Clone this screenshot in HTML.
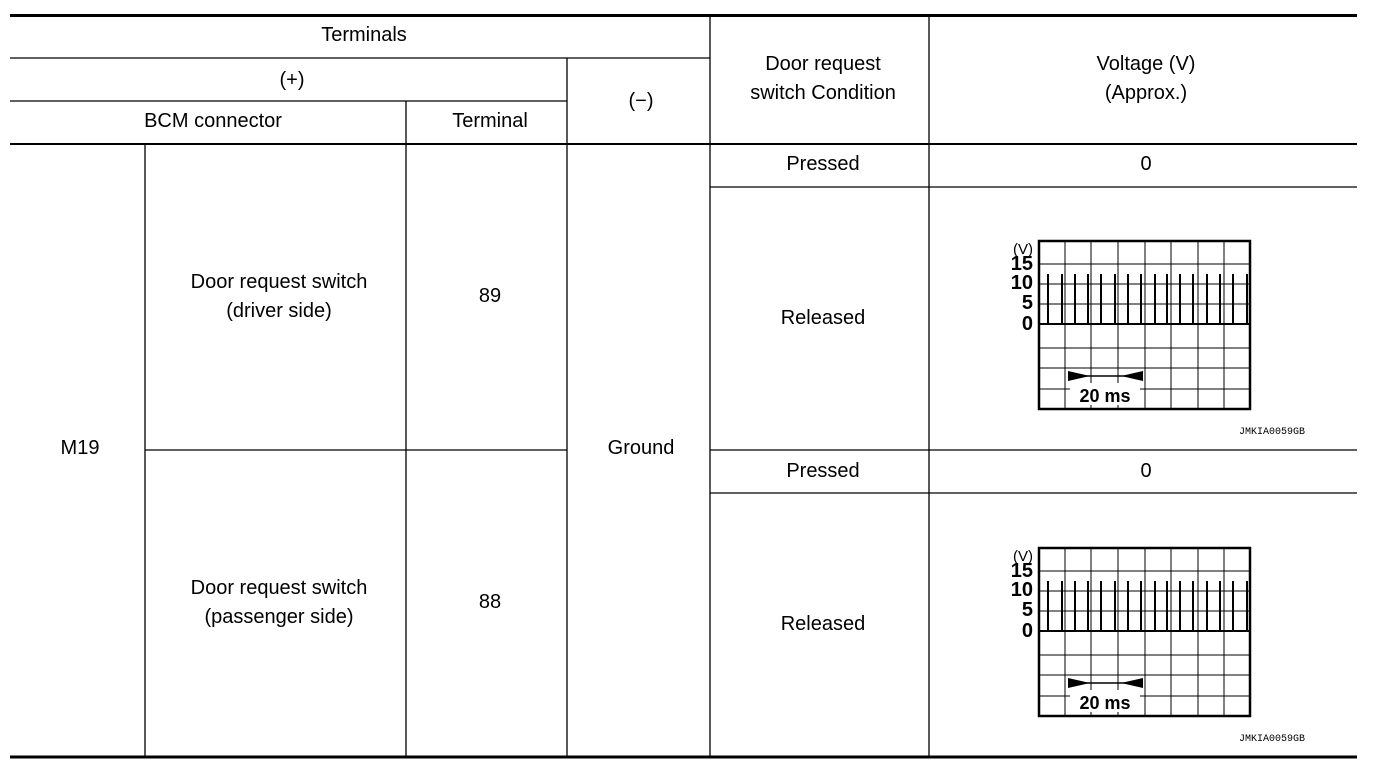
<!DOCTYPE html><html><head><style>
body{margin:0;background:#fff;}
svg text{font-family:"Liberation Sans",Arial,sans-serif;font-size:20px;fill:#000;}
</style></head><body>
<svg width="1392" height="772" xmlns="http://www.w3.org/2000/svg">
<g stroke="#000" stroke-width="1.3" fill="none">
<line x1="10" y1="15.5" x2="1357" y2="15.5" stroke-width="3"/>
<line x1="10" y1="757" x2="1357" y2="757" stroke-width="3"/>
<line x1="10" y1="58" x2="710" y2="58"/>
<line x1="10" y1="101" x2="567" y2="101"/>
<line x1="10" y1="144" x2="1357" y2="144" stroke-width="2"/>
<line x1="710" y1="187" x2="1357" y2="187"/>
<line x1="145" y1="450" x2="567" y2="450"/>
<line x1="710" y1="450" x2="1357" y2="450"/>
<line x1="710" y1="493" x2="1357" y2="493"/>
<line x1="145" y1="144" x2="145" y2="757"/>
<line x1="406" y1="101" x2="406" y2="757"/>
<line x1="567" y1="58" x2="567" y2="757"/>
<line x1="710" y1="15" x2="710" y2="757"/>
<line x1="929" y1="15" x2="929" y2="757"/>
</g>
<g text-anchor="middle">
<text x="364" y="41">Terminals</text>
<text x="292" y="86">(+)</text>
<text x="213" y="127">BCM connector</text>
<text x="490" y="127">Terminal</text>
<text x="641" y="107">(−)</text>
<text x="823" y="70">Door request</text>
<text x="823" y="99">switch Condition</text>
<text x="1146" y="70">Voltage (V)</text>
<text x="1146" y="99">(Approx.)</text>
<text x="823" y="170">Pressed</text>
<text x="1146" y="170">0</text>
<text x="823" y="324">Released</text>
<text x="823" y="477">Pressed</text>
<text x="1146" y="477">0</text>
<text x="823" y="630">Released</text>
<text x="80" y="454">M19</text>
<text x="641" y="454">Ground</text>
<text x="279" y="288">Door request switch</text>
<text x="279" y="317">(driver side)</text>
<text x="490" y="302">89</text>
<text x="279" y="594">Door request switch</text>
<text x="279" y="623">(passenger side)</text>
<text x="490" y="608">88</text>
</g>
<defs>
<g id="scope">
<g stroke="#000" stroke-width="1" fill="none">
<line x1="1038" y1="264" x2="1251" y2="264"/><line x1="1038" y1="284" x2="1251" y2="284"/>
<line x1="1038" y1="304" x2="1251" y2="304"/><line x1="1038" y1="348" x2="1251" y2="348"/>
<line x1="1038" y1="368" x2="1251" y2="368"/><line x1="1038" y1="389" x2="1251" y2="389"/>
<line x1="1065" y1="240" x2="1065" y2="410"/><line x1="1091" y1="240" x2="1091" y2="410"/>
<line x1="1118" y1="240" x2="1118" y2="410"/><line x1="1145" y1="240" x2="1145" y2="410"/>
<line x1="1171" y1="240" x2="1171" y2="410"/><line x1="1198" y1="240" x2="1198" y2="410"/>
<line x1="1224" y1="240" x2="1224" y2="410"/>
<line x1="1038" y1="324" x2="1251" y2="324" stroke-width="2"/>
<rect x="1039" y="241" width="211" height="168" stroke-width="2.5"/>
<path stroke-width="2" d="M1048 324V274M1062 324V274M1075 324V274M1088 324V274M1101 324V274M1115 324V274M1128 324V274M1141 324V274M1155 324V274M1167 324V274M1180 324V274M1193 324V274M1207 324V274M1220 324V274M1233 324V274M1247 324V274"/>
<line x1="1068" y1="376" x2="1143" y2="376" stroke-width="1.5"/>
</g>
<rect x="1070" y="383" width="70" height="22" fill="#fff"/>
<path d="M1068 371L1090 376L1068 381Z M1143 371L1121 376L1143 381Z" fill="#000"/>
<text x="1105" y="402" text-anchor="middle" font-weight="bold" style="font-size:18px">20 ms</text>
<g text-anchor="end" font-weight="bold" style="font-size:17px">
<text x="1033" y="254" style="font-size:15px;font-weight:normal">(V)</text>
<text x="1033" y="270">15</text><text x="1033" y="289">10</text>
<text x="1033" y="309">5</text><text x="1033" y="330">0</text>
</g>
<text x="1305" y="434" text-anchor="end" style="font-size:10px;font-family:'Liberation Mono',monospace">JMKIA0059GB</text>
</g>
</defs>
<use href="#scope"/>
<use href="#scope" transform="translate(0,307)"/>
</svg>
</body></html>
